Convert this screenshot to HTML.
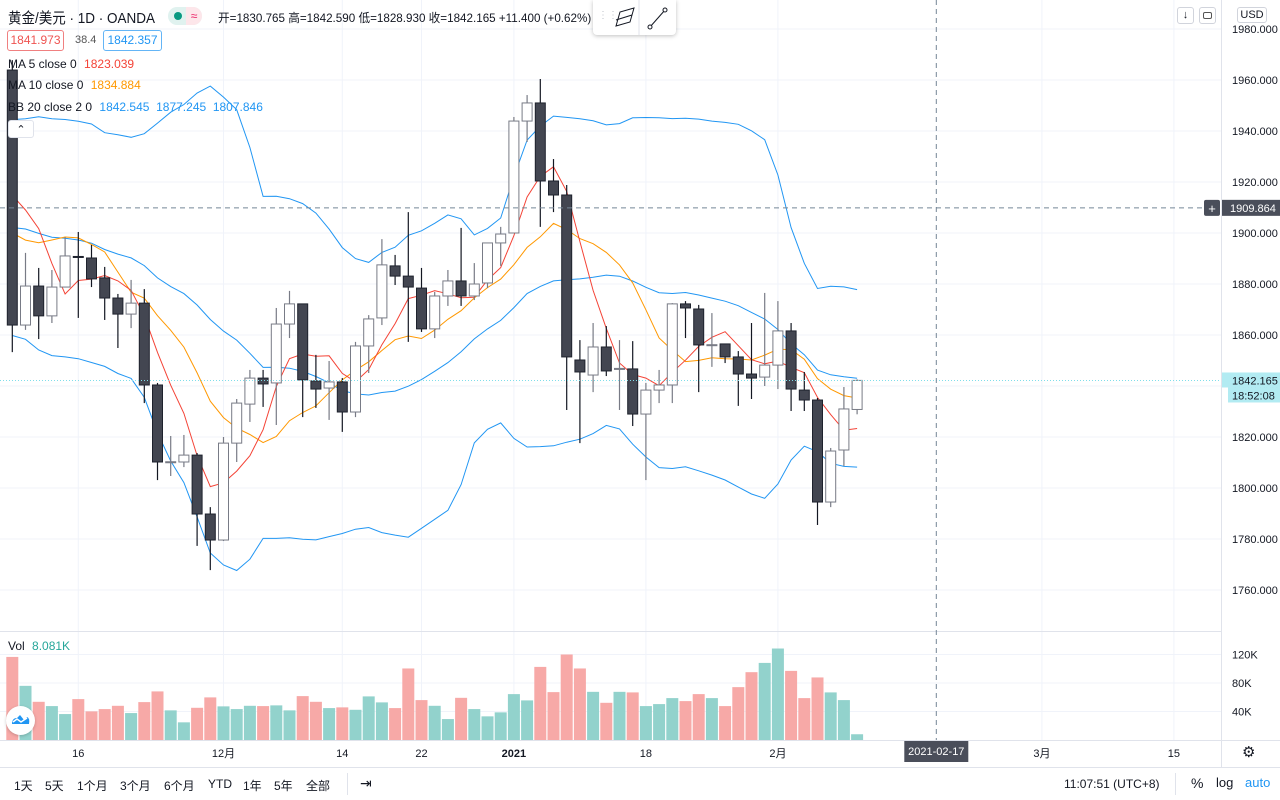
<!DOCTYPE html>
<html><head><meta charset="utf-8">
<style>
*{margin:0;padding:0;box-sizing:border-box}
body{width:1280px;height:800px;overflow:hidden;background:#fff;font-family:"Liberation Sans","Noto Sans CJK SC",sans-serif;color:#131722;position:relative}
.abs{position:absolute;white-space:nowrap}
.t11{font-size:11px}
.t12{font-size:12px}
</style></head><body>
<svg id="chart" width="1280" height="800" style="position:absolute;left:0;top:0"></svg>

<div class="abs" style="left:8px;top:7px;font-size:15px;transform:scaleX(0.9);transform-origin:left top">黄金/美元 · 1D · OANDA</div>
<div class="abs" style="left:168px;top:7px;width:34px;height:18px;border-radius:9px;background:#e0f2ef"><span style="position:absolute;left:6px;top:5px;width:8px;height:8px;border-radius:50%;background:#089981"></span><span style="position:absolute;left:18px;top:0px;width:16px;height:18px;background:#fde6ea;border-radius:0 9px 9px 0;color:#e91e63;font-size:12px;line-height:18px;text-align:center">≈</span></div>
<div class="abs t12" style="left:218px;top:9px;color:#131722;transform:scaleX(0.97);transform-origin:left top">开=1830.765 高=1842.590 低=1828.930 收=1842.165 +11.400 (+0.62%)</div>
<div class="abs" style="left:593px;top:0;width:83px;height:35px;background:#fff;border-radius:0 0 4px 4px;box-shadow:0 1px 4px rgba(0,0,0,.25)">
 <span style="position:absolute;left:5px;top:10px;color:#c0c3cc;font-size:10px">⋮⋮</span>
 <svg width="83" height="35" style="position:absolute;left:0;top:0"><line x1="46" y1="0" x2="46" y2="35" stroke="#e0e3eb"/><path d="M23 26 L27 12 L41 8 L37 22 Z" fill="none" stroke="#131722"/><line x1="23" y1="20" x2="39" y2="15" stroke="#131722"/><line x1="57" y1="27" x2="72" y2="10" stroke="#131722"/><circle cx="57" cy="27" r="2" fill="#fff" stroke="#131722"/><circle cx="72" cy="10" r="2" fill="#fff" stroke="#131722"/></svg>
</div>
<div class="abs t12" style="left:7px;top:30px;width:57px;height:21px;border:1px solid #f08080;border-radius:3px;color:#ef5350;text-align:center;line-height:19px">1841.973</div>
<div class="abs t11" style="left:75px;top:34px;color:#555">38.4</div>
<div class="abs t12" style="left:103px;top:30px;width:59px;height:21px;border:1px solid #64b5f6;border-radius:3px;color:#2196f3;text-align:center;line-height:19px">1842.357</div>
<div class="abs t12" style="left:8px;top:57px">MA 5 close 0 <span style="color:#f44336;margin-left:4px">1823.039</span></div>
<div class="abs t12" style="left:8px;top:78px">MA 10 close 0 <span style="color:#ff9800;margin-left:4px">1834.884</span></div>
<div class="abs t12" style="left:8px;top:100px">BB 20 close 2 0 <span style="color:#2196f3;margin-left:4px">1842.545 &nbsp;1877.245 &nbsp;1807.846</span></div>
<div class="abs" style="left:8px;top:120px;width:26px;height:18px;border:1px solid #e0e3eb;border-radius:3px;background:#fff;text-align:center;font-size:11px;line-height:18px">⌃</div>
<div class="abs" style="left:1177px;top:7px;width:17px;height:17px;border:1px solid #d1d4dc;border-radius:3px;font-size:11px;text-align:center;line-height:15px">↓</div>
<div class="abs" style="left:1199px;top:7px;width:17px;height:17px;border:1px solid #d1d4dc;border-radius:3px"><span style="position:absolute;left:3px;top:4px;width:9px;height:7px;border:1px solid #555;border-radius:2px"></span></div>
<div class="abs t11" style="left:1237px;top:7px;width:30px;height:16px;border:1px solid #d1d4dc;border-radius:3px;background:#fff;text-align:center;line-height:14px">USD</div>
<div class="abs t12" style="left:8px;top:639px">Vol <span style="color:#26a69a;margin-left:4px">8.081K</span></div>
<div class="abs" style="left:6px;top:706px;width:29px;height:29px;border-radius:50%;background:#fff;box-shadow:0 1px 3px rgba(0,0,0,.2)"><svg width="29" height="29"><path d="M6 18 Q6 12 11 12 L14 9 L18 14 L21 11 Q24 12 23 18 Z" fill="#2196f3"/><path d="M7 16 L11 13 L15 16 L21 12" stroke="#fff" stroke-width="1.5" fill="none"/></svg></div>

<div class="abs" style="left:0;top:767px;width:1280px;height:33px;border-top:1px solid #e0e3eb"></div>
<div class="abs t12" style="left:14px;top:777px">1天</div>
<div class="abs t12" style="left:45px;top:777px">5天</div>
<div class="abs t12" style="left:77px;top:777px">1个月</div>
<div class="abs t12" style="left:120px;top:777px">3个月</div>
<div class="abs t12" style="left:164px;top:777px">6个月</div>
<div class="abs t12" style="left:208px;top:777px">YTD</div>
<div class="abs t12" style="left:243px;top:777px">1年</div>
<div class="abs t12" style="left:274px;top:777px">5年</div>
<div class="abs t12" style="left:306px;top:777px">全部</div>
<div class="abs" style="left:347px;top:773px;width:1px;height:22px;background:#e0e3eb"></div>
<div class="abs" style="left:360px;top:775px;font-size:14px">⇥</div>
<div class="abs t12" style="left:1064px;top:777px">11:07:51 (UTC+8)</div>
<div class="abs" style="left:1175px;top:773px;width:1px;height:22px;background:#e0e3eb"></div>
<div class="abs" style="left:1191px;top:775px;font-size:14px">%</div>
<div class="abs" style="left:1216px;top:775px;font-size:13px">log</div>
<div class="abs" style="left:1245px;top:775px;font-size:13px;color:#2196f3">auto</div>
<div class="abs" style="left:1242px;top:743px;font-size:15px;color:#131722">⚙</div>

<script>
const priorCloses=[1891,1902,1908,1899,1905,1907,1924,1904,1902,1901,1907,1878,1868,1879,1894,1908,1904,1947,1951];
const opens=[1963.9,1863.9,1879.2,1867.5,1878.8,1890.8,1890.2,1882.4,1874.5,1868.2,1872.5,1840.4,1810.0,1810.2,1812.9,1789.8,1779.6,1817.6,1832.9,1843.1,1841.2,1864.3,1872.2,1842.0,1839.2,1841.6,1829.8,1855.7,1866.7,1887.1,1883.1,1878.4,1862.4,1875.3,1881.2,1875.3,1880.4,1896.1,1900.0,1943.9,1951.0,1920.4,1914.9,1850.2,1844.3,1855.3,1846.5,1846.7,1829.0,1838.4,1840.4,1872.2,1870.2,1856.0,1856.5,1851.4,1844.7,1843.5,1848.2,1861.6,1838.4,1834.5,1794.5,1814.9,1830.8];
const highs=[1967.8,1892.2,1886.3,1885.5,1898.4,1900.4,1895.3,1886.7,1876.1,1881.6,1878.0,1841.2,1820.4,1820.8,1813.7,1792.5,1820.0,1834.9,1846.3,1846.3,1870.6,1877.3,1872.2,1852.2,1849.8,1843.1,1857.3,1867.8,1897.6,1891.4,1908.2,1886.3,1876.9,1885.5,1902.0,1888.2,1896.1,1902.4,1945.5,1954.1,1960.4,1929.0,1918.8,1858.0,1864.7,1863.5,1858.0,1857.6,1841.2,1846.3,1872.5,1873.3,1871.8,1868.6,1856.5,1853.7,1864.7,1876.5,1873.3,1864.7,1845.5,1835.3,1815.7,1839.6,1842.6];
const lows=[1853.3,1862.0,1858.4,1864.7,1878.8,1866.7,1878.8,1865.9,1854.9,1862.7,1833.3,1803.1,1804.7,1808.2,1777.3,1767.8,1779.2,1810.2,1825.9,1831.8,1824.7,1858.8,1827.8,1831.4,1826.7,1822.0,1827.8,1845.1,1863.9,1879.6,1857.3,1861.2,1858.8,1871.4,1871.4,1873.7,1878.4,1887.1,1900.0,1935.7,1902.4,1908.2,1830.6,1817.6,1837.6,1843.9,1830.6,1824.3,1803.1,1833.3,1833.3,1858.8,1837.6,1847.5,1849.0,1832.2,1834.9,1840.0,1838.8,1830.2,1830.2,1785.5,1792.5,1808.6,1828.9];
const closes=[1863.9,1879.2,1867.5,1878.8,1891.0,1890.4,1882.0,1874.5,1868.2,1872.5,1840.4,1810.2,1810.3,1812.9,1789.8,1779.6,1817.6,1833.3,1843.1,1840.8,1864.3,1872.2,1842.4,1838.8,1841.6,1829.8,1855.7,1866.3,1887.5,1883.1,1878.8,1862.4,1875.3,1881.2,1875.3,1880.0,1896.1,1899.6,1943.9,1951.0,1920.4,1914.9,1851.4,1845.5,1855.3,1845.9,1846.9,1829.0,1838.4,1840.4,1872.2,1870.6,1856.1,1856.2,1851.4,1844.7,1843.1,1848.2,1861.6,1838.8,1834.5,1794.5,1814.5,1831.0,1842.2];
const volumesK=[116.6,76,53.6,47.6,36.4,57.4,40.2,43.4,48,37.8,53.2,68.2,41.6,24.8,45.2,59.8,47.2,43.4,48,47.6,48.6,41.6,61.6,53.6,44.8,45.8,42.4,61.2,52.8,44.8,100.4,56,48,29.4,59.2,43.4,33.2,38.8,64.4,55.6,102.6,67.2,120,100.4,67.6,52.2,67.6,66.8,47.6,50.4,58.8,54.6,64.4,58.8,47.6,74.2,95.2,108.2,128.4,97,58.8,87.8,66.8,56,8.081];
const priceTicks=[1760,1780,1800,1820,1840,1860,1880,1900,1920,1940,1960,1980];
const volTicks=[40,80,120];
const timeLabels=["16","12月","14","22","2021","18","2月","3月","15"];
const timeLabelIdx=[5,16,25,31,38,48,58,78,88];
const lastPrice=1842.165;
const crossPrice=1909.864;
const crossIdx=70;
const crossDate="2021-02-17";

const svg=document.getElementById('chart');
const NS='http://www.w3.org/2000/svg';
const xOf=i=>12.3+i*13.2;
const yOf=p=>29+(1980-p)*2.55;
const vyOf=v=>740-v*0.7125;
function mk(tag,attrs,parent){const e=document.createElementNS(NS,tag);for(const k in attrs)e.setAttribute(k,attrs[k]);(parent||svg).appendChild(e);return e;}

priceTicks.forEach(p=>{const l=mk('line',{x1:0,x2:1221,y1:yOf(p),y2:yOf(p),stroke:'#f0f3fa'});

});
volTicks.forEach(v=>{const l=mk('line',{x1:0,x2:1221,y1:vyOf(v),y2:vyOf(v),stroke:'#f0f3fa'});

});
timeLabelIdx.forEach(i=>{const l=mk('line',{x1:xOf(i),x2:xOf(i),y1:0,y2:740,stroke:'#f0f3fa'});

});
mk('line',{x1:0,x2:1221,y1:631.5,y2:631.5,stroke:'#e0e3eb'});
mk('line',{x1:1221.5,x2:1221.5,y1:0,y2:767,stroke:'#e0e3eb'});
mk('line',{x1:0,x2:1280,y1:740.5,y2:740.5,stroke:'#e0e3eb'});

volumesK.forEach((v,i)=>{const up=closes[i]>=opens[i];
const r=mk('rect',{x:xOf(i)-6,y:vyOf(v),width:12,height:740-vyOf(v),fill:up?'#92d2cc':'#f7a9a7'});

});

const all=priorCloses.concat(closes);const off=priorCloses.length;
function sma(n,i){let s=0;for(let k=0;k<n;k++)s+=all[off+i-k];return s/n;}
function sd(n,i,m){let s=0;for(let k=0;k<n;k++){const d=all[off+i-k]-m;s+=d*d;}return Math.sqrt(s/n);}
function line(vals,color,name){const pts=vals.map((v,i)=>xOf(i).toFixed(1)+','+yOf(v).toFixed(1)).join(' ');
const p=mk('polyline',{points:pts,fill:'none',stroke:color,'stroke-width':1});

}
const mid=closes.map((c,i)=>sma(20,i));
const up=mid.map((m,i)=>m+2*sd(20,i,m));
const lo=mid.map((m,i)=>m-2*sd(20,i,m));
line(up,'#2196f3','bb-upper-line');
line(mid,'#2196f3','bb-basis-line');
line(lo,'#2196f3','bb-lower-line');
line(closes.map((c,i)=>sma(10,i)),'#ff9800','ma10-line');
line(closes.map((c,i)=>sma(5,i)),'#f44336','ma5-line');

closes.forEach((c,i)=>{const o=opens[i],bull=c>=o,x=xOf(i);
const g=mk('g',{});


mk('line',{x1:x,x2:x,y1:yOf(highs[i]),y2:yOf(lows[i]),stroke:bull?'#787b86':'#131722','stroke-width':1.2},g);
const top=yOf(Math.max(o,c)),bot=yOf(Math.min(o,c));
mk('rect',{x:x-5,y:top,width:10,height:Math.max(1,bot-top),fill:bull?'#ffffff':'#434651',stroke:bull?'#787b86':'#1e222d','stroke-width':1},g);});

mk('line',{x1:0,x2:1221,y1:yOf(lastPrice),y2:yOf(lastPrice),stroke:'#80deea','stroke-dasharray':'1 2'});
mk('line',{x1:xOf(crossIdx),x2:xOf(crossIdx),y1:0,y2:740,stroke:'#758696','stroke-dasharray':'5 4'});
mk('line',{x1:0,x2:1221,y1:yOf(crossPrice),y2:yOf(crossPrice),stroke:'#758696','stroke-dasharray':'5 4'});

priceTicks.forEach(p=>{const t=mk('text',{x:1232,y:yOf(p)+4,'font-size':11,fill:'#131722','font-family':'Liberation Sans, sans-serif'});t.textContent=p.toFixed(3);

});
volTicks.forEach(v=>{const t=mk('text',{x:1232,y:vyOf(v)+4,'font-size':11,fill:'#131722','font-family':'Liberation Sans, sans-serif'});t.textContent=v+'K';

});
timeLabels.forEach((s,k)=>{const t=mk('text',{x:xOf(timeLabelIdx[k]),y:757,'font-size':11,'text-anchor':'middle',fill:'#131722','font-weight':s==='2021'?'bold':'normal','font-family':'Liberation Sans, Noto Sans CJK SC, sans-serif'});t.textContent=s;

});
const ly=yOf(lastPrice);
mk('rect',{x:1222,y:ly-8,width:58,height:15,fill:'#b2ebf2'});
mk('rect',{x:1228,y:ly+7,width:52,height:15,fill:'#b2ebf2'});
const lt=mk('text',{x:1232,y:ly+4,'font-size':11,fill:'#131722','font-family':'Liberation Sans, sans-serif'});lt.textContent=lastPrice.toFixed(3);


const ct=mk('text',{x:1232,y:ly+19,'font-size':11,fill:'#131722','font-family':'Liberation Sans, sans-serif'});ct.textContent='18:52:08';


const cy=yOf(crossPrice);
mk('rect',{x:1222,y:cy-8,width:58,height:16,fill:'#4a4e5a'});
mk('rect',{x:1204,y:cy-8,width:16,height:16,fill:'#4a4e5a',rx:2});
const plus=mk('text',{x:1212,y:cy+5,'font-size':13,fill:'#fff','text-anchor':'middle'});plus.textContent='+';


const cpt=mk('text',{x:1230,y:cy+4,'font-size':11,fill:'#fff','font-family':'Liberation Sans, sans-serif'});cpt.textContent=crossPrice.toFixed(3);


mk('rect',{x:xOf(crossIdx)-32,y:741,width:64,height:21,fill:'#4a4e5a'});
const cdt=mk('text',{x:xOf(crossIdx),y:755,'font-size':11,fill:'#fff','text-anchor':'middle','font-family':'Liberation Sans, sans-serif'});cdt.textContent=crossDate;


</script>
</body></html>
